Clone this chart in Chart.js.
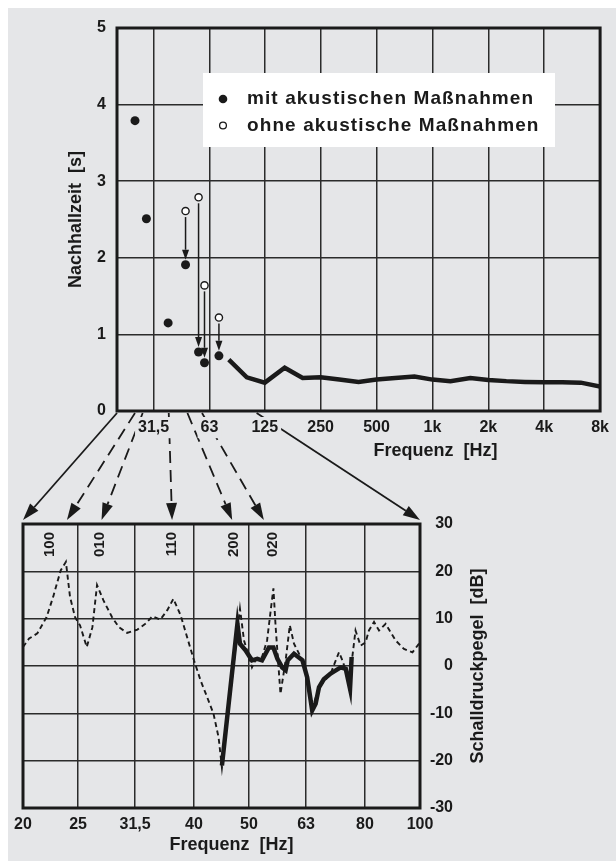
<!DOCTYPE html>
<html>
<head>
<meta charset="utf-8">
<script src="https://cdn.jsdelivr.net/npm/chart.js@4.4.1/dist/chart.umd.min.js"></script>
<style>
html, body { margin: 0; padding: 0; background: #fff; }
#wrap { position: relative; width: 616px; height: 861px; overflow: hidden; }
#bg { position: absolute; left: 8px; top: 8px; right: 0; bottom: 0; background: #e5e6e8; }
canvas { position: absolute; left: 0; top: 0; }
</style>
</head>
<body>
<div id="wrap">
  <div id="bg"></div>
  <canvas id="unten" width="616" height="861"></canvas>
  <canvas id="oben" width="616" height="861"></canvas>
</div>
<script>
// --- oben: Nachhallzeit
const obenTicks = [31.5, 63, 125, 250, 500, 1000, 2000, 4000, 8000];
const obenLabels = ['31,5', '63', '125', '250', '500', '1k', '2k', '4k', '8k'];
const modeFreq = [25, 28.8, 37.7, 46.8, 55, 59.2, 70.8];
const mitModes = [3.79, 2.51, 1.15, 1.91, 0.77, 0.63, 0.72];
const ohneModes = [null, null, null, 2.61, 2.79, 1.64, 1.22];
const terzFreq = [80, 100, 125, 160, 200, 250, 315, 400, 500, 630, 800, 1000, 1250, 1600, 2000, 2500, 3150, 4000, 5000, 6300, 8000];
const mitTerz = [0.67, 0.44, 0.37, 0.565, 0.43, 0.44, 0.41, 0.38, 0.41, 0.43, 0.45, 0.41, 0.39, 0.43, 0.405, 0.39, 0.38, 0.375, 0.375, 0.37, 0.32];

// --- unten: Schalldruckpegel
const untenTicks = [20, 25, 31.5, 40, 50, 63, 80, 100];
const untenLabels = ['20', '25', '31,5', '40', '50', '63', '80', '100'];
const ohneFreq = [20, 20.5, 21.2, 22.0, 22.6, 23.3, 23.8, 24.2, 24.7, 25.2, 25.9, 26.5, 27.0, 27.7, 28.7, 29.5, 30.5, 31.8, 32.9, 33.8,
  34.9, 35.9, 36.8, 37.9, 38.9, 40.0, 41.1, 42.2, 43.3, 44.2, 44.8, 48.2, 49.0, 50.6, 51.3, 52.7, 53.8, 54.6, 55.2, 55.7,
  56.8, 58.0, 59.0, 60.0, 62.1, 63.3, 64.6, 66.4, 69.6, 72.0, 73.0, 75.0, 76.0, 77.0, 78.6, 80.2, 81.3, 83.0, 84.7, 87.0,
  90.6, 93.7, 97.0, 100];
const ohnePegel = [4.0, 5.8, 6.9, 10.3, 14.6, 20.2, 22.0, 14.6, 10.3, 8.6, 4.0, 8.2, 17.1, 13.9, 10.3, 8.2, 7.0, 7.7, 9.0, 10.5,
  9.8, 11.8, 14.2, 10.7, 6.1, 1.2, -3.1, -6.6, -10.1, -15.1, -21.5, 12.1, 5.4, -0.3, 1.2, 1.9, 5.4, 11.8, 16.4, 8.2,
  -5.9, 1.2, 8.6, 4.7, 1.2, -2.4, -9.0, -4.5, -1.6, 2.9, 1.2, -3.1, 1.9, 7.5, 4.3, 5.0, 7.5, 9.3, 7.5, 8.9,
  5.4, 3.6, 2.9, 5.0];
const mitFreq = [44.8, 47.7, 48.2, 49.3, 50.6, 51.7, 52.7, 54.2, 55.2, 56.1, 57.2, 58.0, 58.5, 60.0, 62.1, 63.3, 64.6, 65.5, 66.4, 67.7, 69.6, 70.5, 72.5, 74.0, 75.3, 75.8];
const mitPegel = [-21.0, 8.9, 4.7, 3.3, 1.2, 1.5, 1.2, 3.9, 3.9, 1.5, -0.3, -0.9, 1.2, 2.6, 1.2, -2.4, -9.4, -8.0, -4.5, -2.8, -1.6, -1.2, -0.3, -0.6, -4.8, 1.9];
const modeNamen = ['100', '010', '110', '200', '020'];
const modeNamenFreq = [22.3, 27.3, 36.5, 47.0, 55.0];

// Pfeile von oben nach unten (Frequenz oben -> Frequenz unten)
const pfeilVon = [20, 25, 27.5, 38, 47.9, 57.4, 113];
const pfeilNach = [20, 23.9, 27.5, 36.6, 46.7, 53.1, 100];
const pfeilGestrichelt = [false, true, true, true, true, true, false];

const SCHRIFT = "'Liberation Sans', Arial, Helvetica, sans-serif";
const INK = '#1a1a1a';
const BG = '#e5e6e8';
Chart.defaults.font.family = SCHRIFT;
Chart.defaults.color = INK;

function pfeil(ctx, x1, y1, x2, y2, o) {
  const a = Math.atan2(y2 - y1, x2 - x1);
  const bx = x2 - o.kopf * Math.cos(a), by = y2 - o.kopf * Math.sin(a);
  ctx.save();
  ctx.strokeStyle = INK; ctx.fillStyle = INK;
  ctx.lineWidth = o.breite;
  ctx.setLineDash(o.dash || []);
  ctx.beginPath(); ctx.moveTo(x1, y1); ctx.lineTo(bx, by); ctx.stroke();
  ctx.setLineDash([]);
  ctx.beginPath();
  ctx.moveTo(x2, y2);
  ctx.lineTo(bx + o.halb * Math.sin(a), by - o.halb * Math.cos(a));
  ctx.lineTo(bx - o.halb * Math.sin(a), by + o.halb * Math.cos(a));
  ctx.closePath(); ctx.fill();
  ctx.restore();
}

function text(ctx, s, x, y, size, rot, align, spacing) {
  ctx.save();
  ctx.translate(x, y);
  ctx.rotate(rot || 0);
  ctx.font = 'bold ' + size + 'px ' + SCHRIFT;
  if (spacing) ctx.letterSpacing = spacing;
  ctx.fillStyle = INK;
  ctx.textAlign = align || 'center';
  ctx.textBaseline = 'middle';
  ctx.fillText(s, 0, 0);
  ctx.restore();
}

const rahmen = {
  id: 'rahmen',
  beforeDatasetsDraw(chart) {
    const { ctx, chartArea: a } = chart;
    ctx.save();
    ctx.strokeStyle = INK; ctx.lineWidth = 3;
    ctx.strokeRect(a.left, a.top, a.right - a.left, a.bottom - a.top);
    ctx.restore();
  }
};

const obenExtras = {
  id: 'obenExtras',
  afterDatasetsDraw(chart) {
    const { ctx, chartArea: a } = chart;
    const x = chart.scales.x, y = chart.scales.y;
    // Pfeile ohne -> mit
    modeFreq.forEach((f, i) => {
      if (ohneModes[i] === null) return;
      const px = x.getPixelForValue(f);
      pfeil(ctx, px, y.getPixelForValue(ohneModes[i]) + 6, px, y.getPixelForValue(mitModes[i]) - 5,
        { kopf: 10, halb: 3.5, breite: 1.5 });
    });
    // Legende
    const lx = a.left + 86, ly = a.top + 45;
    ctx.save();
    ctx.fillStyle = '#fff';
    ctx.fillRect(lx, ly, 352, 74);
    ctx.restore();
    chart.data.datasets.slice(0, 2).forEach((ds, i) => {
      const yy = ly + 26 + i * 26.5;
      ctx.save();
      ctx.beginPath();
      ctx.arc(lx + 20, yy, i === 0 ? 4.3 : 3.4, 0, Math.PI * 2);
      ctx.fillStyle = ds.pointBackgroundColor;
      ctx.fill();
      if (ds.pointBorderWidth) { ctx.lineWidth = 1.3; ctx.strokeStyle = INK; ctx.stroke(); }
      ctx.restore();
      text(ctx, ds.label, lx + 44, yy, 19, 0, 'left', '1.1px');
    });
    // Achsentitel x
    text(ctx, 'Frequenz  [Hz]', x.getPixelForValue(1000) + 3, a.bottom + 40, 18);
  }
};

const topChart = new Chart(document.getElementById('oben'), {
  type: 'scatter',
  data: {
    datasets: [
      {
        label: 'mit akustischen Maßnahmen',
        data: modeFreq.map((f, i) => ({ x: f, y: mitModes[i] })),
        pointRadius: 4.5, pointBackgroundColor: INK, pointBorderWidth: 0
      },
      {
        label: 'ohne akustische Maßnahmen',
        data: modeFreq.map((f, i) => ({ x: f, y: ohneModes[i] })).filter(p => p.y !== null),
        pointRadius: 3.6, pointBackgroundColor: '#fff', pointBorderColor: INK, pointBorderWidth: 1.4
      },
      {
        label: 'Terzbänder',
        data: terzFreq.map((f, i) => ({ x: f, y: mitTerz[i] })),
        showLine: true, borderColor: INK, borderWidth: 4.5, pointRadius: 0, borderJoinStyle: 'miter'
      }
    ]
  },
  options: {
    responsive: false,
    animation: false,
    layout: { padding: { left: 0, top: 28, right: 9, bottom: 391 } },
    plugins: { legend: { display: false }, tooltip: { enabled: false } },
    scales: {
      x: {
        type: 'logarithmic', min: 20, max: 8000,
        afterBuildTicks: s => { s.ticks = obenTicks.map(v => ({ value: v })); },
        afterFit: s => { s.height = 59; },
        ticks: {
          callback: v => obenLabels[obenTicks.indexOf(v)],
          autoSkip: false, maxRotation: 0, padding: 7,
          font: { size: 16, weight: 'bold' }, color: INK,
          showLabelBackdrop: true, backdropColor: BG, backdropPadding: { x: 3, y: 1 }
        },
        grid: { color: '#2b2b2b', lineWidth: 1.5, drawTicks: false },
        border: { display: false }
      },
      y: {
        min: 0, max: 5,
        afterFit: s => { s.width = 117; },
        ticks: { stepSize: 1, padding: 11, font: { size: 16, weight: 'bold' }, color: INK },
        grid: { color: '#2b2b2b', lineWidth: 1.5, drawTicks: false },
        border: { display: false },
        title: { display: true, text: 'Nachhallzeit  [s]', font: { size: 18, weight: 'bold' }, color: INK, padding: { top: 65, bottom: 0 } }
      }
    }
  },
  plugins: [rahmen, obenExtras]
});

const untenExtras = {
  id: 'untenExtras',
  afterDraw(chart) {
    const { ctx, chartArea: a } = chart;
    const x = chart.scales.x;
    modeNamen.forEach((n, i) => {
      text(ctx, n, x.getPixelForValue(modeNamenFreq[i]), a.top + 8, 15, -Math.PI / 2, 'right');
    });
    // Pfeile aus dem oberen Diagramm
    const ox = topChart.scales.x, oa = topChart.chartArea;
    pfeilVon.forEach((f, i) => {
      pfeil(ctx, ox.getPixelForValue(f), oa.bottom + 2, x.getPixelForValue(pfeilNach[i]), a.top - 4,
        { kopf: 17, halb: 5.5, breite: 1.8, dash: pfeilGestrichelt[i] ? [12, 7] : [] });
    });
    text(ctx, 'Frequenz  [Hz]', (a.left + a.right) / 2 + 10, a.bottom + 37, 18);
    text(ctx, 'Schalldruckpegel  [dB]', a.right + 58, (a.top + a.bottom) / 2, 18, -Math.PI / 2);
  }
};

new Chart(document.getElementById('unten'), {
  type: 'scatter',
  data: {
    datasets: [
      {
        label: 'mit akustischen Maßnahmen',
        data: mitFreq.map((f, i) => ({ x: f, y: mitPegel[i] })),
        showLine: true, borderColor: INK, borderWidth: 4.5, pointRadius: 0, borderJoinStyle: 'miter'
      },
      {
        label: 'ohne akustische Maßnahmen',
        data: ohneFreq.map((f, i) => ({ x: f, y: ohnePegel[i] })),
        showLine: true, borderColor: INK, borderWidth: 1.9, borderDash: [5, 3.5], pointRadius: 0
      }
    ]
  },
  options: {
    responsive: false,
    animation: false,
    layout: { padding: { left: 23, top: 524, right: 163, bottom: 0 } },
    plugins: { legend: { display: false }, tooltip: { enabled: false } },
    scales: {
      x: {
        type: 'logarithmic', min: 20, max: 100,
        afterBuildTicks: s => { s.ticks = untenTicks.map(v => ({ value: v })); },
        afterFit: s => { s.height = 53; },
        ticks: {
          callback: v => untenLabels[untenTicks.indexOf(v)],
          autoSkip: false, maxRotation: 0, padding: 7,
          font: { size: 16, weight: 'bold' }, color: INK
        },
        grid: { color: '#2b2b2b', lineWidth: 1.5, drawTicks: false },
        border: { display: false }
      },
      y: {
        position: 'right', min: -30, max: 30,
        afterFit: s => { s.width = 33; },
        ticks: { stepSize: 10, padding: 0, crossAlign: 'far', font: { size: 16, weight: 'bold' }, color: INK },
        grid: { color: '#2b2b2b', lineWidth: 1.5, drawTicks: false },
        border: { display: false }
      }
    }
  },
  plugins: [rahmen, untenExtras]
});
</script>
</body>
</html>
